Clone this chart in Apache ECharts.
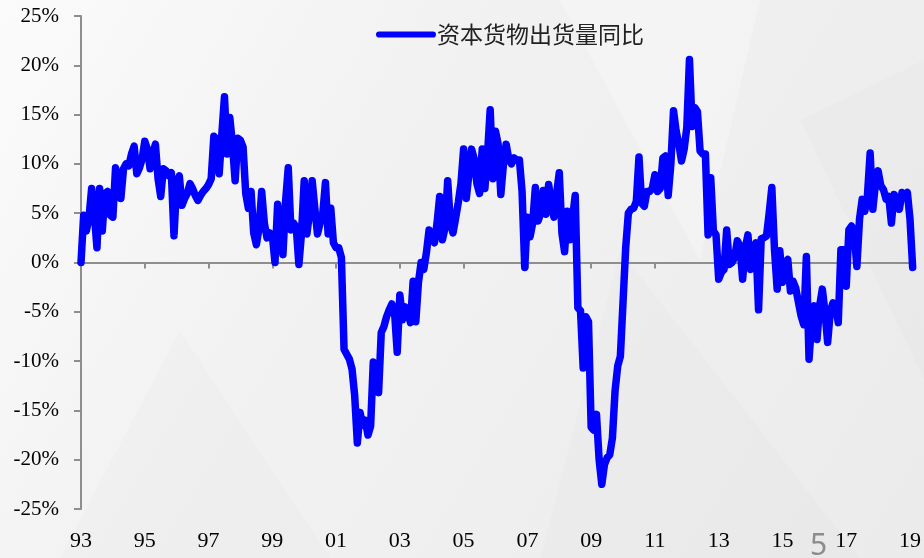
<!DOCTYPE html>
<html><head><meta charset="utf-8">
<script src="https://cdn.jsdelivr.net/npm/echarts@6/dist/echarts.min.js"></script>
<style>html,body{margin:0;padding:0;background:#f1f1f1}#c{width:924px;height:558px}</style>
</head><body><div id="c"></div>
<script>
// Monthly categories: 1993-01 .. 2019-02
const firstYear = 1993;
const lastYear = 2019, lastMonth = 2;
const months = [];
for (let y = firstYear; y <= lastYear; y++) {
  for (let m = 1; m <= 12; m++) {
    if (y === lastYear && m > lastMonth) break;
    months.push(y + '-' + (m < 10 ? '0' + m : m));
  }
}
const seriesName = '资本货物出货量同比';
// Year-on-year values (%), in order
const v1993_1996 = [0.0, 4.8, 3.2, 4.5, 7.5, 5.0, 1.5, 7.5, 3.2, 7.0,
  7.2, 4.8, 4.6, 9.6, 8.5, 6.5, 9.5, 10.0, 9.8, 11.0,
  11.8, 9.0, 9.6, 10.5, 12.3, 11.5, 9.5, 11.0, 12.0, 8.5,
  6.7, 9.5, 9.3, 8.8, 9.1, 2.7, 8.0, 8.8, 5.8, 6.5,
  7.0, 8.0, 7.5, 6.8, 6.3, 6.8, 7.2, 7.5];
const v1997_2000 = [7.9, 8.5,
  12.8, 12.5, 9.0, 13.0, 16.8, 11.0, 14.7, 12.0, 8.3, 12.6,
  12.4, 11.7, 7.0, 5.5, 7.2, 3.0, 1.8, 3.5, 7.2, 4.0,
  2.5, 3.0, 2.8, 0.0, 5.9, 3.0, 0.8, 6.2, 9.6, 3.3,
  4.0, 3.6, -0.2, 3.0, 8.3, 2.9, 5.0, 8.3, 5.5, 2.9,
  4.0, 5.0, 8.1, 2.9, 5.5, 2.0];
const v2001_2004 = [1.5, 1.5, 0.5, -8.8,
  -9.3, -9.8, -10.8, -13.5, -18.3, -15.2, -16.5, -16.0, -17.5, -16.6,
  -10.1, -11.0, -13.2, -7.1, -6.5, -5.5, -4.8, -4.2, -5.0, -9.1,
  -3.3, -5.8, -4.5, -5.0, -6.1, -1.9, -6.0, -2.0, 0.0, -0.7,
  1.0, 3.3, 2.5, 2.0, 4.0, 6.7, 2.3, 3.5, 8.3, 4.0,
  3.0, 4.5, 6.1, 8.0];
const v2005_2008 = [11.5, 6.5, 9.0, 11.5, 10.5, 8.0,
  7.0, 11.5, 7.5, 11.0, 15.5, 8.5, 13.3, 12.0, 6.9, 10.0,
  12.0, 10.5, 10.0, 10.6, 10.4, 10.4, 7.2, -0.5, 4.6, 2.6,
  4.0, 7.6, 4.2, 5.0, 7.3, 4.9, 7.9, 6.0, 4.6, 7.0,
  9.1, 3.0, 1.1, 5.2, 2.3, 4.5, 6.8, -4.6, -4.9, -10.7,
  -5.5, -6.0];
const v2009_2012 = [-16.7, -17.0, -15.4, -20.0, -22.5, -20.5, -19.8, -19.5,
  -17.8, -13.0, -10.5, -9.5, -4.0, 1.5, 5.0, 5.4, 5.5, 6.2,
  10.7, 6.0, 5.7, 7.2, 7.2, 7.5, 8.9, 7.2, 7.5, 10.6,
  10.8, 6.8, 10.0, 15.4, 13.3, 12.0, 10.3, 11.5, 13.7, 20.6,
  13.8, 15.7, 15.3, 11.3, 11.0, 11.0, 2.8, 8.6, 3.2, 2.8];
const v2013_2016 = [-1.7, -1.0, -0.7, 3.3, -0.2, 0.0, 0.5, 2.2, 1.7, -1.7,
  1.5, 2.8, -0.7, 1.0, 2.0, -4.8, 2.4, 2.5, 2.7, 5.0,
  7.6, 1.3, -2.7, 1.2, -2.0, 0.0, 0.3, -2.9, -1.9, -2.6,
  -4.0, -5.4, -6.3, 0.6, -9.8, -6.0, -4.4, -7.8, -4.4, -2.7,
  -5.0, -8.1, -5.0, -4.1, -4.4, -6.1, 1.3, 1.3];
const v2017_2019 = [-2.4, 3.3,
  3.7, 3.0, -0.4, 4.4, 6.4, 5.2, 6.9, 11.1, 5.4, 8.0,
  9.3, 7.8, 7.4, 6.4, 6.7, 4.0, 6.9, 6.5, 5.4, 7.1,
  6.8, 7.1, 4.4, -0.5];
const values = [].concat(v1993_1996, v1997_2000, v2001_2004, v2005_2008, v2009_2012, v2013_2016, v2017_2019);
const yMin = -25, yMax = 25, yStep = 5;
const labelEvery = 24; // one label every two years
const pageNumber = '5';

const chart = echarts.init(document.getElementById('c'), null, {renderer: 'canvas'});
const axisGray = '#8e8e8e';
chart.setOption({
  backgroundColor: {
    type: 'linear', x: 0, y: 0, x2: 1, y2: 1,
    colorStops: [{offset: 0, color: '#fbfbfb'}, {offset: 0.35, color: '#f2f2f2'}, {offset: 1, color: '#ebebeb'}]
  },
  animation: false,
  graphic: [
    {type: 'polygon', silent: true, z: -10, shape: {points: [[560, 0], [760, 0], [700, 260]]}, style: {fill: 'rgba(255,255,255,0.25)'}},
    {type: 'polygon', silent: true, z: -10, shape: {points: [[180, 330], [330, 558], [60, 558]]}, style: {fill: 'rgba(0,0,0,0.012)'}},
    {type: 'polygon', silent: true, z: -10, shape: {points: [[620, 250], [860, 558], [540, 558]]}, style: {fill: 'rgba(0,0,0,0.01)'}},
    {type: 'polygon', silent: true, z: -10, shape: {points: [[800, 120], [924, 60], [924, 380]]}, style: {fill: 'rgba(0,0,0,0.01)'}},
    {type: 'text', left: 810, top: 531, silent: true, z: 10,
      style: {text: pageNumber, fill: '#8c8c8c', font: '30px "Noto Sans", sans-serif'}}
  ],
  legend: {
    data: [seriesName], left: 371, top: 18,
    icon: 'path://M3,0 L55,0 A3,3 0 0 1 55,6 L3,6 A3,3 0 0 1 3,0 Z',
    itemWidth: 60, itemHeight: 7, itemGap: 4,
    textStyle: {fontFamily: '"Noto Sans CJK SC", sans-serif', fontSize: 23, color: '#222', padding: [0, 0, 0, -4]}
  },
  grid: {left: 81, right: 11, top: 16, bottom: 49, containLabel: false},
  xAxis: [{
    type: 'category', data: months, boundaryGap: false, position: 'bottom',
    axisLine: {show: false, onZero: false}, axisTick: {show: false},
    axisLabel: {
      interval: labelEvery - 1, margin: 21, color: '#000', fontSize: 22,
      fontFamily: '"Liberation Serif", "Times New Roman", serif',
      formatter: v => v.slice(2, 4)
    },
    splitLine: {show: false}
  }, {
    type: 'category', data: months, boundaryGap: false, position: 'bottom',
    axisLine: {show: true, onZero: true, lineStyle: {color: axisGray, width: 2}},
    axisTick: {show: true, interval: labelEvery - 1, length: 6, lineStyle: {color: axisGray, width: 2}},
    axisLabel: {show: false}, splitLine: {show: false}
  }],
  yAxis: {
    type: 'value', min: yMin, max: yMax, interval: yStep,
    axisLine: {show: true, lineStyle: {color: axisGray, width: 2}},
    axisTick: {show: true, length: 7, lineStyle: {color: axisGray, width: 2}},
    axisLabel: {
      margin: 22, color: '#000', fontSize: 21,
      fontFamily: '"Liberation Serif", "Times New Roman", serif',
      formatter: v => v + '%'
    },
    splitLine: {show: false}
  },
  series: [{
    name: seriesName, type: 'line', data: values, xAxisIndex: 0,
    symbol: 'none', smooth: false,
    itemStyle: {color: '#0000ff'},
    lineStyle: {color: '#0000ff', width: 7.5, cap: 'round', join: 'round'},
    z: 5
  }]
});
</script>
</body></html>
